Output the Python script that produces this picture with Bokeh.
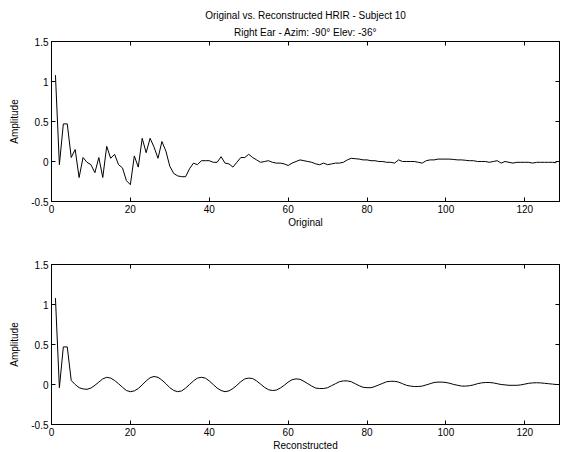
from bokeh.plotting import figure
from bokeh.layouts import column
from bokeh.models import LinearAxis, FixedTicker, Title, Range1d
from bokeh.embed import file_html
from bokeh.resources import INLINE

title_line1 = "Original vs. Reconstructed HRIR - Subject 10"
title_line2 = "Right Ear - Azim: -90\u00b0 Elev: -36\u00b0"
y_label = "Amplitude"
x_label_top = "Original"
x_label_bottom = "Reconstructed"

x_ticks = [0, 20, 40, 60, 80, 100, 120]
y_ticks = [-0.5, 0, 0.5, 1, 1.5]
y_tick_labels = ["-0.5", "0", "0.5", "1", "1.5"]

samples = list(range(1, 129))

original = [
    1.08, -0.04, 0.47, 0.47, 0.05, 0.15, -0.20, 0.05, -0.01, -0.04,
    -0.14, 0.05, -0.20, 0.19, 0.04, 0.09, -0.04, -0.08, -0.24, -0.29,
    0.07, -0.07, 0.29, 0.11, 0.29, 0.18, 0.04, 0.25, 0.13, -0.06,
    -0.15, -0.18, -0.19, -0.19, -0.09, -0.02, -0.04, 0.01, 0.01, 0.01,
    -0.01, -0.01, 0.06, -0.02, -0.03, -0.07, -0.01, 0.05, 0.05, 0.09,
    0.05, 0.02, -0.01, 0.00, 0.01, -0.01, -0.02, -0.02, -0.03, -0.05,
    -0.02, 0.00, 0.02, 0.01, 0.00, -0.01, -0.03, -0.04, -0.02, -0.04,
    -0.03, -0.02, -0.02, -0.01, 0.02, 0.04, 0.035, 0.03, 0.02, 0.02,
    0.01, 0.01, 0.00, 0.00, -0.01, -0.01, -0.02, 0.02, 0.00, 0.00,
    0.00, 0.00, -0.01, -0.02, 0.01, 0.02, 0.02, 0.03, 0.03, 0.03,
    0.03, 0.025, 0.02, 0.02, 0.015, 0.01, 0.01, 0.00, 0.00, 0.00,
    -0.01, 0.00, 0.01, -0.02, 0.00, -0.01, -0.02, -0.01, -0.01, -0.01,
    -0.01, -0.02, -0.01, -0.01, -0.01, -0.01, -0.01, -0.015,
]

reconstructed = [
    1.08, -0.04, 0.47, 0.47, 0.05, 0.00, -0.04, -0.055, -0.06, -0.045,
    -0.01, 0.03, 0.07, 0.09, 0.08, 0.05, 0.01, -0.035, -0.075, -0.09,
    -0.08, -0.05, -0.005, 0.045, 0.085, 0.10, 0.09, 0.055, 0.01, -0.04,
    -0.075, -0.09, -0.08, -0.045, 0.00, 0.045, 0.08, 0.09, 0.08, 0.045,
    0.00, -0.045, -0.075, -0.09, -0.08, -0.05, -0.01, 0.035, 0.07, 0.08,
    0.075, 0.045, 0.005, -0.035, -0.065, -0.075, -0.07, -0.045, -0.01, 0.03,
    0.06, 0.07, 0.065, 0.04, 0.01, -0.02, -0.045, -0.05, -0.05, -0.04,
    -0.015, 0.01, 0.035, 0.045, 0.045, 0.035, 0.01, -0.015, -0.035, -0.04,
    -0.04, -0.025, -0.005, 0.015, 0.035, 0.04, 0.04, 0.03, 0.01, -0.01,
    -0.02, -0.025, -0.025, -0.02, -0.005, 0.01, 0.025, 0.03, 0.03, 0.025,
    0.015, 0.00, -0.01, -0.02, -0.02, -0.015, -0.005, 0.01, 0.02, 0.025,
    0.025, 0.02, 0.01, 0.00, -0.005, -0.01, -0.01, -0.01, -0.005, 0.005,
    0.015, 0.02, 0.022, 0.02, 0.015, 0.01, 0.005, 0.00,
]

FONT = "Liberation Sans"
FS = "10px"


def make_panel(y, xlabel, border_top, border_bottom, titles=None):
    p = figure(frame_width=508, frame_height=160,
               min_border_left=51, min_border_right=9,
               min_border_top=border_top, min_border_bottom=border_bottom,
               output_backend="svg", toolbar_location=None,
               x_range=Range1d(0, 128.8), y_range=Range1d(-0.5, 1.5))
    p.grid.visible = False
    p.outline_line_color = "black"
    p.outline_line_width = 1
    p.background_fill_color = "white"
    p.border_fill_color = "white"

    p.line(samples, y, line_color="black", line_width=1)

    xa = p.xaxis[0]
    xa.ticker = FixedTicker(ticks=x_ticks)
    ya = p.yaxis[0]
    ya.ticker = FixedTicker(ticks=y_ticks)
    ya.major_label_overrides = {t: s for t, s in zip(y_ticks, y_tick_labels)}
    for ax in (xa, ya):
        ax.major_tick_in = 4
        ax.major_tick_out = 0
        ax.minor_tick_in = 0
        ax.minor_tick_out = 0
        ax.major_label_text_font = FONT
        ax.major_label_text_font_size = FS
        ax.major_label_standoff = 3
        ax.axis_label_text_font = FONT
        ax.axis_label_text_font_size = FS
        ax.axis_label_text_font_style = "normal"
        ax.axis_label_text_color = "black"
        ax.major_label_text_color = "black"
    xa.axis_label = xlabel
    xa.axis_label_standoff = 1
    ya.axis_label = y_label
    ya.axis_label_standoff = 8

    top = LinearAxis(ticker=FixedTicker(ticks=x_ticks))
    right = LinearAxis(ticker=FixedTicker(ticks=y_ticks))
    for ax in (top, right):
        ax.major_tick_in = 4
        ax.major_tick_out = 0
        ax.minor_tick_in = 0
        ax.minor_tick_out = 0
        ax.major_label_text_font_size = "0px"
        ax.major_label_text_alpha = 0
        ax.major_label_standoff = 0
    p.add_layout(top, "above")
    p.add_layout(right, "right")

    if titles:
        t2 = Title(text=titles[1], align="center", text_font=FONT,
                   text_font_size=FS, text_font_style="normal",
                   text_color="black", standoff=8)
        t1 = Title(text=titles[0], align="center", text_font=FONT,
                   text_font_size=FS, text_font_style="normal",
                   text_color="black", standoff=0)
        p.add_layout(t2, "above")
        p.add_layout(t1, "above")
    return p


p1 = make_panel(original, x_label_top, 41, 31, titles=(title_line1, title_line2))
p2 = make_panel(reconstructed, x_label_bottom, 32, 28)

layout = column(p1, p2, spacing=0)
open("out.html", "w").write(file_html(layout, INLINE))
